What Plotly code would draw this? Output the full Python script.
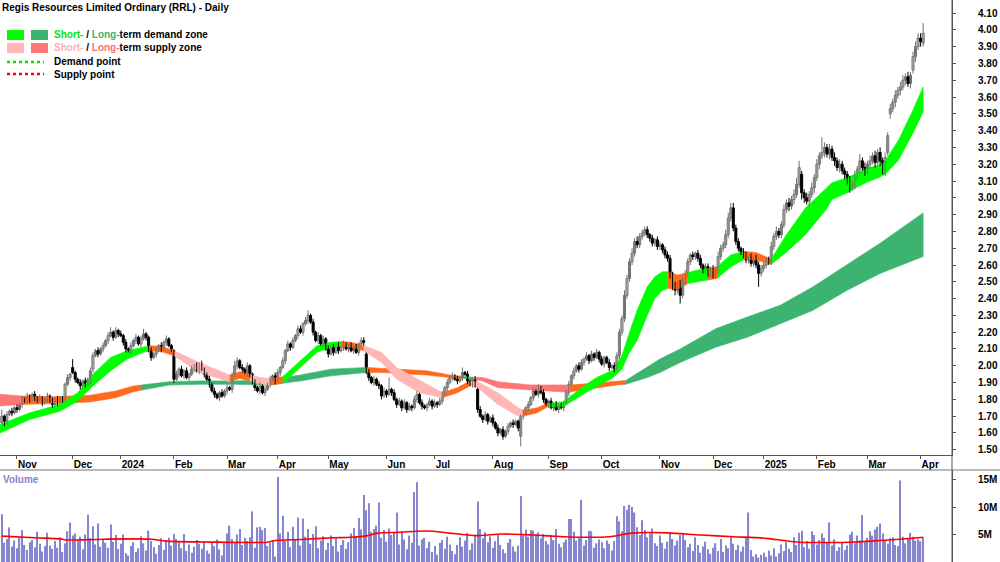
import pandas as pd
import plotly.graph_objects as go

# ---------------- data ----------------
FIRST_DAY = "2023-10-24"
LAST_DAY = "2025-04-03"
HOLIDAYS = ["2023-12-25", "2023-12-26", "2024-01-01", "2024-01-26", "2024-03-29",
            "2024-04-01", "2024-04-25", "2024-06-10", "2024-12-25", "2024-12-26",
            "2025-01-01", "2025-01-27"]

month_labels = ["Nov", "Dec", "2024", "Feb", "Mar", "Apr", "May", "Jun", "Jul", "Aug",
                "Sep", "Oct", "Nov", "Dec", "2025", "Feb", "Mar", "Apr"]

close = [
    1.70, 1.67, 1.71, 1.73, 1.72, 1.75, 1.74, 1.77, 1.80, 1.79,
    1.82, 1.80, 1.83, 1.81, 1.79, 1.81, 1.78, 1.80, 1.82, 1.79,
    1.77, 1.80, 1.78, 1.81, 1.80, 1.89, 1.93, 1.95, 1.96, 1.92,
    1.90, 1.88, 1.91, 1.89, 1.92, 1.97, 2.06, 2.09, 2.07, 2.10,
    2.12, 2.15, 2.18, 2.20, 2.17, 2.21, 2.19, 2.18, 2.14, 2.10,
    2.09, 2.12, 2.15, 2.17, 2.13, 2.16, 2.19, 2.17, 2.09, 2.05,
    2.07, 2.09, 2.12, 2.10, 2.14, 2.16, 2.12, 2.10, 1.92, 1.95,
    1.98, 1.94, 1.97, 1.93, 1.95, 1.98, 2.00, 1.97, 2.01, 1.98,
    1.95, 1.92, 1.89, 1.85, 1.83, 1.81, 1.84, 1.82, 1.85, 1.87,
    1.86, 1.94, 2.00, 2.03, 1.99, 1.98, 1.96, 2.00, 1.95, 1.90,
    1.87, 1.85, 1.88, 1.84, 1.86, 1.89, 1.92, 1.94, 1.91, 1.96,
    1.99, 2.03, 2.09, 2.13, 2.11, 2.15, 2.18, 2.22, 2.20, 2.25,
    2.27, 2.30, 2.26, 2.20, 2.15, 2.18, 2.13, 2.16, 2.10, 2.07,
    2.11, 2.08, 2.12, 2.09, 2.11, 2.13, 2.10, 2.12, 2.09, 2.11,
    2.08, 2.13, 2.15, 2.14, 1.96, 1.93, 1.90, 1.92, 1.89, 1.88,
    1.82, 1.85, 1.83, 1.86, 1.84, 1.80, 1.77, 1.79, 1.75, 1.78,
    1.74, 1.76, 1.75, 1.80, 1.83, 1.78, 1.76, 1.75, 1.77, 1.79,
    1.76, 1.78, 1.77, 1.79, 1.83, 1.87, 1.90, 1.93, 1.94, 1.92,
    1.91, 1.93, 1.96, 1.95, 1.91, 1.89, 1.92, 1.88, 1.74, 1.70,
    1.68, 1.71, 1.67, 1.69, 1.66, 1.63, 1.60, 1.62, 1.58, 1.61,
    1.64, 1.66, 1.65, 1.67, 1.63, 1.70, 1.72, 1.75, 1.77, 1.81,
    1.85, 1.83, 1.87, 1.84, 1.80, 1.77, 1.79, 1.75, 1.77, 1.74,
    1.76, 1.75, 1.78, 1.84, 1.89, 1.94, 1.97, 2.00, 1.98, 2.02,
    2.04, 2.06, 2.03, 2.07, 2.05, 2.08, 2.04, 2.01, 2.05, 2.02,
    1.99, 2.00, 1.98, 2.06, 2.20, 2.28, 2.42, 2.52, 2.62, 2.67,
    2.74, 2.72, 2.77, 2.79, 2.81, 2.78, 2.76, 2.73, 2.75, 2.71,
    2.72, 2.69, 2.66, 2.64, 2.55, 2.48, 2.45, 2.49, 2.42, 2.50,
    2.55, 2.62, 2.66, 2.65, 2.67, 2.64, 2.60, 2.57, 2.59, 2.55,
    2.58, 2.54, 2.57, 2.65, 2.70, 2.72, 2.78, 2.88, 2.94, 2.82,
    2.74, 2.70, 2.68, 2.66, 2.63, 2.65, 2.61, 2.64, 2.60, 2.55,
    2.58, 2.60, 2.63, 2.62, 2.71, 2.77, 2.80, 2.78, 2.84, 2.93,
    2.97, 2.95, 2.99, 3.02, 3.08, 3.18, 3.03, 3.00, 2.98, 3.02,
    3.06, 3.12, 3.20, 3.25, 3.27, 3.30, 3.26, 3.29, 3.24, 3.22,
    3.18, 3.20, 3.16, 3.14, 3.10, 3.06, 3.08, 3.13, 3.17, 3.22,
    3.18, 3.16, 3.20, 3.22, 3.25, 3.21, 3.27, 3.22, 3.16, 3.24,
    3.37, 3.53, 3.57, 3.61, 3.64, 3.66, 3.70, 3.72, 3.68, 3.73,
    3.84, 3.90, 3.95, 3.93, 3.98,
]

open_ = [
    1.66, 1.70, 1.67, 1.71, 1.73, 1.72, 1.75, 1.74, 1.77, 1.80,
    1.79, 1.82, 1.80, 1.83, 1.81, 1.79, 1.81, 1.78, 1.80, 1.82,
    1.79, 1.77, 1.80, 1.78, 1.81, 1.80, 1.89, 1.93, 1.99, 1.96,
    1.92, 1.90, 1.88, 1.91, 1.89, 1.90, 1.98, 2.06, 2.09, 2.07,
    2.10, 2.12, 2.15, 2.18, 2.20, 2.17, 2.21, 2.19, 2.18, 2.14,
    2.10, 2.09, 2.12, 2.15, 2.17, 2.13, 2.16, 2.19, 2.17, 2.09,
    2.05, 2.07, 2.09, 2.12, 2.10, 2.14, 2.16, 2.12, 2.09, 1.92,
    1.95, 1.98, 1.94, 1.97, 1.93, 1.95, 1.98, 2.00, 1.97, 2.01,
    1.98, 1.95, 1.92, 1.89, 1.85, 1.83, 1.81, 1.84, 1.82, 1.85,
    1.87, 1.86, 1.94, 2.00, 2.03, 1.99, 1.98, 1.96, 2.00, 1.95,
    1.90, 1.87, 1.85, 1.88, 1.84, 1.86, 1.89, 1.92, 1.94, 1.91,
    1.96, 1.99, 2.03, 2.09, 2.13, 2.11, 2.15, 2.18, 2.22, 2.20,
    2.25, 2.27, 2.30, 2.26, 2.20, 2.15, 2.18, 2.13, 2.16, 2.10,
    2.07, 2.11, 2.08, 2.12, 2.09, 2.11, 2.13, 2.10, 2.12, 2.09,
    2.11, 2.08, 2.13, 2.15, 2.07, 1.96, 1.93, 1.90, 1.92, 1.89,
    1.88, 1.82, 1.85, 1.83, 1.86, 1.84, 1.80, 1.77, 1.79, 1.75,
    1.78, 1.74, 1.76, 1.75, 1.80, 1.83, 1.78, 1.76, 1.75, 1.77,
    1.79, 1.76, 1.78, 1.77, 1.79, 1.83, 1.87, 1.90, 1.93, 1.94,
    1.92, 1.91, 1.93, 1.96, 1.95, 1.91, 1.89, 1.92, 1.86, 1.74,
    1.70, 1.68, 1.71, 1.67, 1.69, 1.66, 1.63, 1.60, 1.62, 1.58,
    1.61, 1.64, 1.66, 1.65, 1.67, 1.58, 1.70, 1.72, 1.75, 1.77,
    1.81, 1.85, 1.83, 1.87, 1.84, 1.80, 1.77, 1.79, 1.75, 1.77,
    1.74, 1.76, 1.75, 1.78, 1.84, 1.89, 1.94, 1.97, 2.00, 1.98,
    2.02, 2.04, 2.06, 2.03, 2.07, 2.05, 2.08, 2.04, 2.01, 2.05,
    2.02, 1.99, 2.00, 1.98, 2.06, 2.20, 2.28, 2.42, 2.52, 2.62,
    2.67, 2.74, 2.72, 2.77, 2.79, 2.81, 2.78, 2.76, 2.73, 2.75,
    2.71, 2.72, 2.69, 2.66, 2.64, 2.55, 2.48, 2.45, 2.49, 2.42,
    2.50, 2.55, 2.62, 2.66, 2.65, 2.67, 2.64, 2.60, 2.57, 2.59,
    2.55, 2.58, 2.54, 2.57, 2.65, 2.70, 2.72, 2.78, 2.88, 2.94,
    2.82, 2.74, 2.70, 2.68, 2.66, 2.63, 2.65, 2.61, 2.64, 2.60,
    2.55, 2.58, 2.60, 2.63, 2.62, 2.71, 2.77, 2.80, 2.78, 2.84,
    2.93, 2.97, 2.95, 2.99, 3.02, 3.08, 3.14, 3.03, 3.00, 2.98,
    3.02, 3.06, 3.12, 3.20, 3.25, 3.27, 3.30, 3.26, 3.29, 3.24,
    3.22, 3.18, 3.20, 3.16, 3.14, 3.10, 3.06, 3.08, 3.13, 3.17,
    3.22, 3.18, 3.16, 3.20, 3.22, 3.25, 3.21, 3.27, 3.22, 3.16,
    3.27, 3.50, 3.53, 3.57, 3.61, 3.64, 3.66, 3.70, 3.72, 3.68,
    3.76, 3.84, 3.90, 3.95, 3.92,
]

# upper / lower shadow lengths in cents
wick_up = [
    4, 1, 2, 1, 2, 1, 2, 1, 2, 1,  2, 1, 1, 2, 1, 2, 1, 1, 2, 1,
    2, 1, 2, 1, 1, 1, 2, 1, 5, 1,  1, 2, 1, 2, 1, 2, 2, 1, 2, 1,
    2, 1, 2, 3, 1, 2, 1, 2, 1, 2,  1, 2, 1, 2, 1, 2, 3, 1, 1, 2,
    1, 2, 1, 2, 1, 2, 1, 1, 1, 2,  1, 2, 1, 2, 1, 2, 1, 2, 1, 2,
    1, 1, 2, 1, 2, 1, 1, 2, 1, 2,  1, 2, 3, 2, 1, 2, 1, 2, 1, 1,
    2, 1, 2, 1, 2, 1, 2, 1, 2, 2,  1, 2, 1, 2, 1, 2, 1, 2, 2, 1,
    2, 3, 1, 2, 1, 2, 1, 2, 1, 2,  1, 2, 1, 2, 1, 2, 1, 1, 2, 1,
    2, 1, 2, 2, 1, 2, 1, 2, 1, 2,  1, 2, 1, 7, 1, 2, 1, 2, 1, 2,
    1, 2, 1, 2, 2, 1, 2, 1, 1, 2,  1, 2, 1, 2, 2, 1, 2, 1, 2, 1,
    2, 1, 3, 1, 2, 1, 1, 2, 1, 2,  1, 2, 1, 1, 2, 1, 2, 1, 2, 1,
    2, 1, 2, 1, 1, 1, 2, 1, 2, 1,  2, 1, 2, 1, 2, 1, 1, 2, 1, 2,
    1, 2, 1, 2, 2, 1, 2, 1, 2, 2,  1, 2, 1, 2, 1, 2, 1, 2, 1, 1,
    2, 1, 2, 2, 2, 2, 3, 2, 2, 3,  2, 3, 2, 2, 2, 2, 1, 2, 1, 2,
    2, 1, 2, 2, 2, 1, 2, 1, 2, 3,  2, 2, 1, 2, 1, 2, 2, 1, 2, 2,
    1, 2, 2, 3, 2, 2, 3, 3, 3, 3,  2, 2, 1, 2, 2, 1, 2, 1, 2, 2,
    2, 2, 1, 2, 3, 2, 3, 2, 2, 3,  2, 3, 2, 3, 4, 4, 2, 2, 3, 2,
    3, 2, 3, 2, 9, 3, 2, 3, 2, 3,  2, 3, 2, 2, 2, 3, 2, 3, 2, 4,
    2, 3, 2, 3, 2, 3, 2, 3, 2, 3,  2, 3, 2, 3, 2, 3, 3, 2, 3, 2,
    3, 3, 3, 3, 6,
]
wick_dn = [
    1, 3, 2, 1, 2, 1, 2, 1, 2, 1,  1, 2, 1, 2, 1, 1, 2, 1, 2, 1,
    2, 1, 2, 1, 2, 1, 1, 2, 1, 2,  1, 2, 1, 2, 1, 1, 2, 1, 2, 1,
    2, 1, 2, 1, 2, 1, 2, 1, 2, 2,  1, 2, 1, 2, 1, 2, 1, 2, 1, 2,
    1, 2, 1, 2, 1, 2, 1, 2, 2, 1,  2, 1, 2, 1, 2, 1, 2, 1, 2, 1,
    2, 1, 2, 1, 2, 1, 2, 1, 1, 2,  1, 2, 1, 2, 1, 2, 1, 2, 2, 1,
    2, 1, 2, 1, 2, 1, 2, 1, 2, 1,  2, 1, 2, 1, 2, 1, 1, 2, 1, 2,
    1, 2, 1, 2, 1, 2, 1, 2, 1, 2,  1, 2, 1, 2, 1, 2, 1, 2, 1, 2,
    1, 2, 1, 2, 1, 2, 1, 2, 1, 2,  2, 1, 2, 1, 2, 1, 2, 1, 2, 1,
    2, 1, 2, 1, 2, 1, 2, 1, 2, 1,  2, 1, 2, 1, 2, 1, 2, 1, 2, 1,
    2, 1, 2, 1, 2, 1, 2, 1, 2, 1,  2, 1, 2, 1, 2, 1, 2, 1, 2, 1,
    2, 1, 2, 1, 2, 6, 2, 1, 2, 1,  2, 1, 2, 1, 2, 1, 2, 1, 2, 1,
    2, 1, 2, 1, 2, 1, 2, 1, 2, 1,  2, 1, 2, 1, 2, 1, 2, 1, 2, 1,
    2, 1, 2, 1, 2, 2, 2, 2, 2, 2,  2, 2, 2, 2, 2, 2, 2, 2, 2, 2,
    2, 2, 2, 2, 3, 3, 3, 2, 5, 2,  2, 2, 2, 2, 2, 2, 2, 2, 2, 2,
    2, 2, 2, 2, 2, 2, 2, 2, 2, 2,  2, 2, 2, 2, 2, 2, 2, 2, 2, 8,
    2, 2, 2, 2, 2, 2, 2, 2, 2, 2,  2, 3, 2, 3, 2, 2, 4, 3, 2, 3,
    2, 3, 2, 3, 2, 3, 2, 3, 2, 3,  2, 3, 2, 3, 2, 3, 2, 3, 2, 3,
    2, 3, 2, 3, 2, 3, 2, 3, 2, 3,  2, 3, 2, 3, 2, 3, 2, 3, 2, 3,
    2, 3, 2, 3, 2,
]

# daily volume, millions of shares
volume_m = [
    8.7, 3.5, 4.2, 6.3, 2.8, 3.9, 2.5, 4.4, 5.8, 3.1,
    2.2, 3.6, 4.0, 2.7, 5.5, 3.3, 1.9, 2.9, 5.3, 3.0,
    2.4, 3.8, 2.6, 4.5, 1.8, 3.4, 5.6, 7.2, 4.8, 5.2,
    3.9, 4.6, 2.3, 5.0, 8.6, 4.3, 6.5, 3.2, 7.0, 2.8,
    4.1, 3.5, 2.6, 6.8, 3.7, 4.9, 2.4, 3.3, 5.0, 1.6,
    1.2, 2.9, 3.6, 1.8, 2.5, 4.7, 3.4, 2.1, 5.7, 3.8,
    2.7, 1.5, 3.1, 4.3, 2.2, 3.9, 4.4, 3.0, 5.1, 4.2,
    3.6, 2.5, 5.1, 2.0, 3.2, 1.7, 2.8, 4.0, 3.3, 2.4,
    3.8, 2.1, 1.5, 3.5, 2.9, 4.1, 2.3, 1.2, 3.4, 5.2,
    6.6, 4.2, 3.6, 5.0, 6.0, 3.1, 4.4, 3.8, 4.5, 9.2,
    2.6, 6.3, 6.4, 5.8, 6.2, 2.9, 3.5, 4.0, 1.0, 15.5,
    5.2, 8.4, 3.8, 5.5, 2.7, 6.4, 4.2, 8.1, 3.0, 7.9,
    4.6, 6.0, 3.3, 5.1, 6.5, 2.5, 3.9, 4.7, 2.2, 3.5,
    4.8, 2.9, 4.3, 1.9, 3.1, 4.0, 2.4, 3.6, 5.2, 6.2,
    4.5, 8.0, 5.9, 12.2, 9.4, 10.7, 5.5, 6.0, 6.6, 10.8,
    4.4, 5.8, 3.7, 6.1, 4.9, 5.3, 9.0, 3.2, 5.6, 4.1,
    2.3, 4.8, 3.5, 12.7, 14.5, 3.0, 4.1, 4.4, 2.5, 3.7,
    1.8, 2.9, 1.3, 3.5, 4.0, 2.4, 4.6, 3.2, 2.0, 1.4,
    3.1, 4.5, 2.8, 3.9, 5.3, 2.2, 3.4, 4.8, 11.0, 6.0,
    4.3, 5.4, 3.6, 4.7, 2.6, 3.8, 4.9, 3.1, 2.3, 1.6,
    3.5, 4.2, 2.8, 1.9, 3.0, 12.0, 5.1, 5.9, 4.6, 5.8,
    5.7, 5.0, 5.4, 4.3, 5.1, 3.8, 3.2, 4.9, 4.0, 6.0,
    3.3, 2.7, 3.6, 4.1, 7.8, 7.8, 5.5, 3.9, 4.3, 11.3,
    3.0, 4.0, 5.7, 5.6, 2.6, 3.4, 4.1, 3.6, 2.5, 3.9,
    3.3, 2.1, 3.8, 8.3, 7.4, 5.6, 10.2, 9.5, 10.4, 10.0,
    9.0, 6.3, 4.9, 7.6, 5.8, 4.5, 5.2, 6.1, 3.4, 2.9,
    4.8, 3.5, 2.4, 3.7, 5.1, 4.2, 3.0, 3.9, 4.9, 5.2,
    4.0, 2.7, 3.3, 2.0, 4.5, 3.1, 1.7, 2.8, 3.7, 2.3,
    1.5, 2.6, 3.4, 2.0, 4.2, 1.8, 3.0, 2.5, 4.6, 3.3,
    2.2, 3.1, 1.9, 2.8, 4.4, 9.0, 2.2, 1.0, 1.4, 0.8,
    1.3, 1.7, 0.9, 2.1, 1.2, 2.5, 1.0, 1.6, 3.2, 2.0,
    3.6, 2.4, 1.8, 4.5, 3.1, 5.3, 5.7, 2.7, 3.8, 2.4,
    5.6, 4.9, 3.2, 4.0, 5.2, 4.4, 3.6, 7.2, 3.0, 4.1,
    2.0, 2.7, 3.5, 2.2, 3.0, 5.0, 5.5, 3.4, 4.8, 3.9,
    8.5, 3.6, 4.4, 5.6, 4.8, 5.9, 6.4, 7.0, 5.2, 4.0,
    3.3, 4.3, 4.5, 3.1, 2.9, 14.8, 4.6, 3.4, 4.2, 5.3,
    4.6, 3.9, 4.1, 3.8, 4.5,
]

# volume moving average, trading-day index / millions
vol_ma_idx = [0, 13, 23, 26, 40, 59, 65, 80, 105, 108,
              118, 131, 138, 144.5, 148.5, 157.5, 164, 170.5, 177, 184,
              188, 193, 197, 210, 222, 230, 240, 249, 263, 276,
              289, 302, 309, 315, 328, 335, 342, 355, 364]
vol_ma_val = [4.7, 4.4, 4.2, 4.0, 4.15, 4.15, 3.8, 3.65, 3.6, 3.9,
              4.1, 4.4, 4.5, 4.8, 5.25, 5.4, 5.6, 5.6, 5.25, 4.9,
              4.8, 4.95, 5.1, 4.9, 4.6, 4.5, 4.6, 5.25, 5.3, 4.9,
              4.6, 4.3, 3.9, 3.6, 3.55, 3.6, 3.75, 4.15, 4.5]

# short-term zone edges (trading-day index, lower, upper)
short_idx = [-0.7, 11, 23, 30, 36, 43, 49.5, 56, 58.5, 63,
             68, 78, 90, 94, 98, 102, 106, 111, 118, 124.5,
             130, 134, 138, 143, 150, 156, 165, 174, 180, 185,
             188, 196, 204, 206, 211.5, 215.5, 221.7, 229.6, 235, 241.5,
             245, 248, 251, 255, 258, 261, 263, 267, 271, 275,
             279, 282.6, 288, 293, 298, 304, 309.5, 317.5, 325.7, 328,
             334, 338, 342, 347, 349, 354.3, 360, 364]
short_lo = [1.60, 1.68, 1.73, 1.79, 1.88, 1.97, 2.04, 2.08, 2.09, 2.085,
            2.06, 1.96, 1.905, 1.925, 1.91, 1.89, 1.885, 1.895, 1.99, 2.08,
            2.11, 2.115, 2.11, 2.09, 2.02, 1.92, 1.84, 1.81, 1.84, 1.88,
            1.87, 1.77, 1.70, 1.70, 1.72, 1.755, 1.755, 1.83, 1.875, 1.93,
            1.98, 2.08, 2.15, 2.30, 2.40, 2.45, 2.46, 2.455, 2.49, 2.50,
            2.51, 2.52, 2.59, 2.63, 2.63, 2.605, 2.67, 2.78, 2.93, 2.99,
            3.03, 3.065, 3.094, 3.124, 3.14, 3.225, 3.386, 3.51]
short_hi = [1.65, 1.72, 1.77, 1.84, 1.95, 2.05, 2.09, 2.11, 2.12, 2.115,
            2.09, 2.02, 1.945, 1.965, 1.95, 1.93, 1.925, 1.935, 2.03, 2.12,
            2.14, 2.145, 2.14, 2.12, 2.08, 1.99, 1.915, 1.84, 1.87, 1.91,
            1.905, 1.84, 1.75, 1.735, 1.75, 1.775, 1.785, 1.875, 1.93, 1.975,
            2.06, 2.20, 2.33, 2.47, 2.53, 2.56, 2.56, 2.54, 2.555, 2.57,
            2.58, 2.59, 2.66, 2.68, 2.675, 2.635, 2.77, 2.94, 3.06, 3.09,
            3.12, 3.148, 3.177, 3.195, 3.22, 3.344, 3.523, 3.66]
short_state = [(-0.7, 58.5, "G"), (58.5, 68, "O"), (68, 90, "P"), (90, 98, "O"),
               (98, 106, "P"), (106, 111, "O"), (111, 134, "G"), (134, 143, "O"),
               (143, 174, "P"), (174, 185, "O"), (185, 206, "P"), (206, 215.5, "O"),
               (215.5, 263, "G"), (263, 271, "O"), (271, 279, "G"), (279, 282.6, "O"),
               (282.6, 293, "G"), (293, 304, "O"), (304, 364, "G")]

# long-term zone edges
long_idx = [-0.7, 8, 20, 35, 45, 52, 55, 66, 78, 91.5,
            105, 118, 130, 144, 150, 158, 168, 177, 182, 186,
            190, 196, 209, 222, 224.5, 235, 243, 246.5, 255, 260,
            268, 282, 294.5, 307.5, 320.5, 334, 347, 364]
long_lo = [1.76, 1.77, 1.775, 1.785, 1.81, 1.845, 1.855, 1.885, 1.89, 1.89,
           1.885, 1.91, 1.94, 1.96, 1.96, 1.955, 1.945, 1.93, 1.925, 1.92,
           1.91, 1.87, 1.856, 1.844, 1.845, 1.868, 1.886, 1.89, 1.93, 1.96,
           2.02, 2.11, 2.17, 2.25, 2.33, 2.45, 2.55, 2.65]
long_hi = [1.83, 1.82, 1.815, 1.825, 1.85, 1.88, 1.885, 1.905, 1.91, 1.91,
           1.915, 1.945, 1.98, 1.99, 1.985, 1.98, 1.97, 1.945, 1.937, 1.932,
           1.93, 1.905, 1.886, 1.886, 1.885, 1.898, 1.91, 1.912, 1.99, 2.04,
           2.10, 2.22, 2.29, 2.36, 2.47, 2.60, 2.73, 2.91]
long_state = [(-0.7, 8, "S"), (8, 55, "O"), (55, 144, "D"), (144, 182, "O"),
              (182, 186, "D"), (186, 224.5, "S"), (224.5, 246.5, "O"), (246.5, 364, "D")]

price_tick_labels = ["1.50", "1.60", "1.70", "1.80", "1.90", "2.00", "2.10", "2.20", "2.30",
                     "2.40", "2.50", "2.60", "2.70", "2.80", "2.90", "3.00", "3.10", "3.20",
                     "3.30", "3.40", "3.50", "3.60", "3.70", "3.80", "3.90", "4.00", "4.10"]
vol_tick_vals = [5, 10, 15]
vol_tick_labels = ["5M", "10M", "15M"]

# ---------------- styling ----------------
FONT = "Liberation Sans, Arial, sans-serif"
W, H = 1000, 562
PLOT_W = 952
PRICE_BOTTOM_PX = 455
VOL_TOP_PX = 470
ZONE_COLORS = {"G": "#00FF00", "D": "#3CB371", "P": "#FFB6B6",
               "S": "#FF7676", "O": "#FF6A1F"}
AXIS_COL = "#555555"
UP_LINE = "#707070"
DOWN_LINE = "#000000"
BODY_W = 0.8

n = min(len(close), len(open_), len(wick_up), len(wick_dn), len(volume_m))
days = pd.bdate_range(FIRST_DAY, LAST_DAY, freq="C", holidays=HOLIDAYS)[:n]
x_idx = list(range(n))

month_pos = [i for i in range(1, n) if days[i].month != days[i - 1].month]
month_txt = month_labels[:len(month_pos)]

high = [max(o, c) + u / 100 for o, c, u in zip(open_, close, wick_up)]
low = [min(o, c) - d / 100 for o, c, d in zip(open_, close, wick_dn)]

fig = go.Figure()


def add_zone(idx, lo, hi, states):
    for a, b, code in states:
        keep = [k for k, v in enumerate(idx) if a <= v <= b]
        xs = [idx[k] for k in keep]
        ys_top = [hi[k] for k in keep]
        ys_bot = [lo[k] for k in keep]
        col = ZONE_COLORS[code]
        fig.add_trace(go.Scatter(
            x=xs + xs[::-1], y=ys_top + ys_bot[::-1], mode="lines",
            fill="toself", fillcolor=col, line=dict(color=col, width=0.6),
            hoverinfo="skip", showlegend=False, xaxis="x", yaxis="y"))


add_zone(long_idx, long_lo, long_hi, long_state)
add_zone(short_idx, short_lo, short_hi, short_state)

# candles: wicks as line segments, bodies as bars
up = [i for i in range(n) if close[i] >= open_[i]]
dn = [i for i in range(n) if close[i] < open_[i]]


def wick_xy(ids):
    xs, ys = [], []
    for i in ids:
        xs += [i, i, None]
        ys += [low[i], high[i], None]
    return xs, ys


for ids, col in ((up, UP_LINE), (dn, DOWN_LINE)):
    wx, wy = wick_xy(ids)
    fig.add_trace(go.Scatter(x=wx, y=wy, mode="lines", line=dict(color=col, width=1),
                             hoverinfo="skip", showlegend=False, xaxis="x", yaxis="y"))

fig.add_trace(go.Bar(
    x=up, base=[open_[i] for i in up], y=[close[i] - open_[i] for i in up],
    width=BODY_W, marker=dict(color="#ffffff", line=dict(color=UP_LINE, width=1)),
    hoverinfo="skip", showlegend=False, xaxis="x", yaxis="y"))
fig.add_trace(go.Bar(
    x=dn, base=[close[i] for i in dn], y=[open_[i] - close[i] for i in dn],
    width=BODY_W, marker=dict(color="#000000", line=dict(color=DOWN_LINE, width=1)),
    hoverinfo="skip", showlegend=False, xaxis="x", yaxis="y"))

fig.add_trace(go.Bar(
    x=x_idx, y=volume_m[:n], marker=dict(color="#8686D0", line=dict(width=0)),
    hoverinfo="skip", showlegend=False, xaxis="x2", yaxis="y2"))
fig.add_trace(go.Scatter(
    x=vol_ma_idx, y=vol_ma_val, mode="lines",
    line=dict(color="#FF0000", width=1.6, shape="spline", smoothing=0.8),
    hoverinfo="skip", showlegend=False, xaxis="x2", yaxis="y2"))

tickfont = dict(family=FONT, size=10, color="#000000", weight="bold")
x_range = [-0.711, 375.4]

fig.update_layout(
    width=W, height=H, margin=dict(l=0, r=W - PLOT_W, t=0, b=0, autoexpand=False),
    paper_bgcolor="white", plot_bgcolor="white", showlegend=False,
    barmode="overlay", bargap=0.5, font=dict(family=FONT, size=10, color="#000"),
    xaxis=dict(domain=[0, 1], range=x_range, anchor="y", showgrid=False, zeroline=False,
               showline=True, linecolor=AXIS_COL, linewidth=1, ticks="outside", ticklen=3,
               tickcolor=AXIS_COL, tickvals=month_pos, ticktext=month_txt,
               ticklabelposition="outside right", tickfont=tickfont, automargin=False),
    xaxis2=dict(domain=[0, 1], range=x_range, anchor="y2", showgrid=False, zeroline=False,
                showticklabels=False, ticks="", showline=False, automargin=False),
    yaxis=dict(domain=[1 - PRICE_BOTTOM_PX / H, 1], range=[1.469, 4.1774], side="right",
               anchor="x", showgrid=False, zeroline=False, showline=True,
               linecolor=AXIS_COL, linewidth=1, ticks="outside", ticklen=3,
               tickcolor=AXIS_COL, tickvals=[float(t) for t in price_tick_labels],
               ticktext=price_tick_labels, tickfont=tickfont, ticklabelstandoff=20,
               automargin=False),
    yaxis2=dict(domain=[0, 1 - VOL_TOP_PX / H], range=[0, (H - VOL_TOP_PX) / 5.5],
                side="right", anchor="x2", showgrid=False, zeroline=False, showline=True,
                linecolor=AXIS_COL, linewidth=1, ticks="outside", ticklen=3,
                tickcolor=AXIS_COL, tickvals=vol_tick_vals, ticktext=vol_tick_labels,
                tickfont=tickfont, ticklabelstandoff=20, automargin=False),
)


def px_x(px):
    return px / PLOT_W


def px_y(py):
    return 1 - py / H


shapes = [
    dict(type="line", xref="paper", yref="paper", x0=1, x1=1, y0=0, y1=1,
         line=dict(color=AXIS_COL, width=1)),
    dict(type="line", xref="paper", yref="paper", x0=0, x1=px_x(W), y0=px_y(VOL_TOP_PX),
         y1=px_y(VOL_TOP_PX), line=dict(color="#777777", width=1)),
    # legend swatches
    dict(type="rect", xref="paper", yref="paper", x0=px_x(7), x1=px_x(24), y0=px_y(40), y1=px_y(30),
         fillcolor=ZONE_COLORS["G"], line=dict(width=0)),
    dict(type="rect", xref="paper", yref="paper", x0=px_x(31), x1=px_x(48), y0=px_y(40), y1=px_y(30),
         fillcolor=ZONE_COLORS["D"], line=dict(width=0)),
    dict(type="rect", xref="paper", yref="paper", x0=px_x(7), x1=px_x(24), y0=px_y(53), y1=px_y(43),
         fillcolor=ZONE_COLORS["P"], line=dict(width=0)),
    dict(type="rect", xref="paper", yref="paper", x0=px_x(31), x1=px_x(48), y0=px_y(53), y1=px_y(43),
         fillcolor=ZONE_COLORS["S"], line=dict(width=0)),
    dict(type="line", xref="paper", yref="paper", x0=px_x(7), x1=px_x(44), y0=px_y(62), y1=px_y(62),
         line=dict(color="#00E000", width=2.5, dash="dot")),
    dict(type="line", xref="paper", yref="paper", x0=px_x(7), x1=px_x(44), y0=px_y(74), y1=px_y(74),
         line=dict(color="#FF0000", width=2.5, dash="dot")),
]
fig.update_layout(shapes=shapes)

ann_font = dict(family=FONT, size=10, color="#000000")
annotations = [
    dict(text="<b>Regis Resources Limited Ordinary (RRL) - Daily</b>", x=px_x(1), y=px_y(8)),
    dict(text="<b><span style='color:#00E600'>Short-</span> / "
              "<span style='color:#3CB371'>Long-</span>term demand zone</b>",
         x=px_x(53), y=px_y(35)),
    dict(text="<b><span style='color:#FFAEAE'>Short-</span> / "
              "<span style='color:#FF6E6E'>Long-</span>term supply zone</b>",
         x=px_x(53), y=px_y(48)),
    dict(text="<b>Demand point</b>", x=px_x(53), y=px_y(62)),
    dict(text="<b>Supply point</b>", x=px_x(53), y=px_y(74)),
    dict(text="<b><span style='color:#8484C8'>Volume</span></b>", x=px_x(2), y=px_y(479)),
]
for a in annotations:
    a.update(xref="paper", yref="paper", xanchor="left", yanchor="middle",
             showarrow=False, font=ann_font, borderpad=0)
fig.update_layout(annotations=annotations)

fig.write_html("out.html")
